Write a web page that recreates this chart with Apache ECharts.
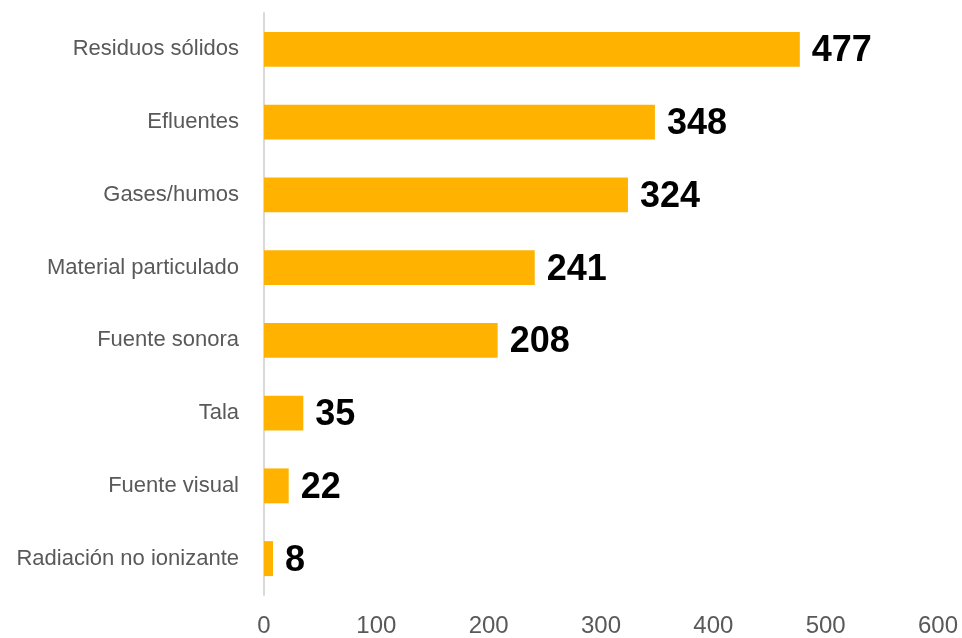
<!DOCTYPE html>
<html>
<head>
<meta charset="utf-8">
<script src="https://cdn.jsdelivr.net/npm/echarts@6/dist/echarts.min.js"></script>
<style>
  html, body { margin: 0; padding: 0; background: #fff; }
  #chart { width: 962px; height: 638px; }
</style>
</head>
<body>
<div id="chart"></div>
<script>
// categories top to bottom
var categories = ['Residuos sólidos', 'Efluentes', 'Gases/humos', 'Material particulado',
  'Fuente sonora', 'Tala', 'Fuente visual', 'Radiación no ionizante'];
var values = [477, 348, 324, 241, 208, 35, 22, 8];
var xTicks = [0, 100, 200, 300, 400, 500, 600];

var myChart = echarts.init(document.getElementById('chart'));
var option = {
  animation: false,
  textStyle: { fontFamily: 'Liberation Sans, Arial, sans-serif' },
  grid: { left: 264, right: 24, top: 13, bottom: 41, containLabel: false },
  xAxis: {
    type: 'value',
    min: xTicks[0],
    max: xTicks[xTicks.length - 1],
    interval: 100,
    axisLine: { show: false },
    axisTick: { show: false },
    splitLine: { show: false },
    axisLabel: { color: '#595959', fontSize: 24, margin: 19 }
  },
  yAxis: {
    type: 'category',
    inverse: true,
    data: categories,
    axisLine: { show: true, lineStyle: { color: '#d9d9d9', width: 2 } },
    axisTick: { show: false },
    axisLabel: { color: '#595959', fontSize: 22, margin: 25 }
  },
  series: [{
    type: 'bar',
    data: values,
    barWidth: '48%',
    itemStyle: { color: '#FFB300' },
    label: {
      show: true,
      position: 'right',
      distance: 12,
      offset: [0, 2],
      color: '#000',
      fontSize: 36,
      fontWeight: 'bold'
    }
  }]
};
myChart.setOption(option);
</script>
</body>
</html>
